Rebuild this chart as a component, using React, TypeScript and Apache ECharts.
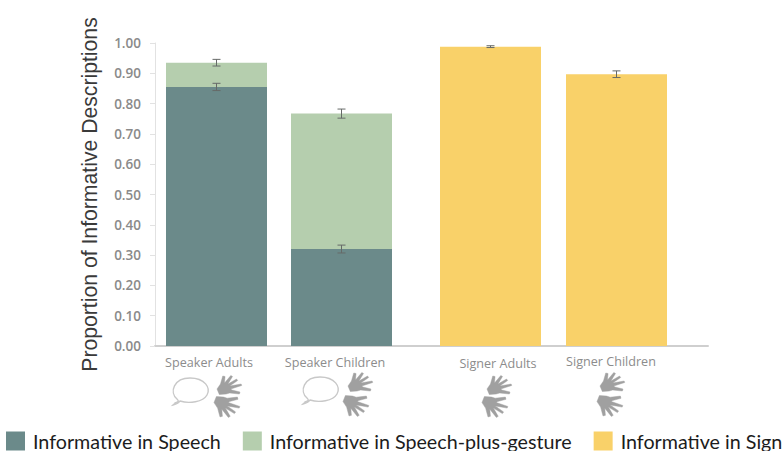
import React, { useEffect, useRef } from "react";
import * as echarts from "echarts";

const categories = ["Speaker Adults", "Speaker Children", "Signer Adults", "Signer Children"];
const speechValues = [0.855, 0.32, null, null];
const gestureTotals = [0.935, 0.767, null, null];
const signValues = [null, null, 0.988, 0.897];
const speechErrors = [0.012, 0.013, null, null];
const gestureTotalErrors = [0.011, 0.015, null, null];
const signErrors = [null, null, 0.003, 0.011];
const yTicks = [0, 0.1, 0.2, 0.3, 0.4, 0.5, 0.6, 0.7, 0.8, 0.9, 1];
const seriesNames = ["Informative in Speech", "Informative in Speech-plus-gesture", "Informative in Sign"];
const yTitle = "Proportion of Informative Descriptions";

// Uneven spacing of the four bars along the horizontal axis
const slots = [0.492, 1.492, 2.684, 3.692];
const slotMax = 4.424;

const HAND =
  "M0 14 L3 9 L5 1 L7 1.5 L6.5 8 L12 0.5 L13.5 1.5 L9.5 9 L17 4 L18 5.5 L11 11 L21 9 L21.5 10.5 L12 14 L13 15 L20 17 L19.5 19 L11 18 L8 19 L2 19.5 Z";
const BUBBLE =
  "M4 26 C8 25 8 24 6 22 C-2 15 3 1 19 1 C34 1 40 11 36 18 C32 25 18 27 9 24 C8 26 6 27 2 28 C3 27 4 27 4 26 Z";
echarts.graphic.registerShape("hand", echarts.graphic.extendPath(HAND, {}));
echarts.graphic.registerShape("bubble", echarts.graphic.extendPath(BUBBLE, {}));

const handStyle = { fill: "#a0a0a0", stroke: "#a0a0a0", lineWidth: 0.4, lineJoin: "round" };
const hands = (x: number, y: number, x2: number, y2: number) => [
  { type: "hand", x, y, scaleX: 1.15, scaleY: 1.0, style: handStyle },
  { type: "hand", x: x2, y: y2, scaleX: 1.2, scaleY: -1.1, style: handStyle },
];
const bubble = (x: number, y: number) => ({
  type: "bubble", x, y,
  style: { fill: "none", stroke: "#c8c8c8", lineWidth: 1.4 },
});
const label = (text: string, x: number, y: number) => ({
  type: "text", x, y,
  style: { text, fill: "#8c8c8c", font: '12.6px "Open Sans"', textAlign: "center", textVerticalAlign: "middle" },
});

const toPairs = (vals: (number | null)[]) => vals.map((v, i) => [slots[i], v]);

const errorRender = (_: any, api: any) => {
  const x = api.value(0);
  const y = api.value(1);
  const e = api.value(2);
  const lo = api.coord([x, y - e]);
  const hi = api.coord([x, y + e]);
  const st = { stroke: "#666a68", lineWidth: 1 };
  const line = (x1: number, y1: number, x2: number, y2: number) => ({ type: "line", shape: { x1, y1, x2, y2 }, style: st });
  return {
    type: "group",
    children: [
      line(lo[0], lo[1], hi[0], hi[1]),
      line(lo[0] - 4, lo[1], lo[0] + 4, lo[1]),
      line(hi[0] - 4, hi[1], hi[0] + 4, hi[1]),
    ],
  };
};

const errorData = () => {
  const out: number[][] = [];
  slots.forEach((s, i) => {
    if (speechValues[i] != null) {
      out.push([s, speechValues[i] as number, speechErrors[i] as number]);
      out.push([s, gestureTotals[i] as number, gestureTotalErrors[i] as number]);
    }
    if (signValues[i] != null) out.push([s, signValues[i] as number, signErrors[i] as number]);
  });
  return out;
};

export default function App() {
  const ref = useRef<HTMLDivElement>(null);
  useEffect(() => {
    const chart = echarts.init(ref.current!, undefined, { renderer: "svg" });
    const bar = (name: string, vals: (number | null)[], color: string) => ({
      name, type: "bar", barWidth: 101, barGap: "-100%", data: toPairs(vals),
      itemStyle: { color }, emphasis: { disabled: true },
    });
    chart.setOption({
      animation: false,
      backgroundColor: "#ffffff",
      grid: { left: 155, right: 75, top: 43, bottom: 105 },
      legend: {
        data: seriesNames, left: 6, top: 431, itemWidth: 19, itemHeight: 19, itemGap: 22, padding: 0,
        icon: "rect",
        textStyle: { fontFamily: "Lato", fontSize: 19.7, lineHeight: 19, color: "#1c1c1c", padding: [0, 0, 1, 3] },
      },
      xAxis: {
        type: "value", min: 0, max: slotMax, splitLine: { show: false },
        axisLabel: { show: false }, axisTick: { show: false },
        axisLine: { show: true, onZero: false, lineStyle: { color: "#cfcfcf", width: 2 } },
      },
      yAxis: {
        type: "value", min: 0, max: 1, interval: 0.1,
        name: yTitle, nameLocation: "middle", nameGap: 55,
        nameTextStyle: { fontFamily: "Liberation Sans", fontSize: 21.2, color: "#3a3a3a" },
        splitLine: { show: false },
        axisLine: { show: true, lineStyle: { color: "#e2e2e2", width: 1 } },
        axisTick: { show: true, length: 5, lineStyle: { color: "#e2e2e2" } },
        axisLabel: {
          fontFamily: "Open Sans", fontSize: 13.5, fontWeight: 600, color: "#8a8a8a", margin: 14,
          customValues: yTicks, formatter: (v: number) => v.toFixed(2),
        },
      },
      series: [
        bar(seriesNames[1], gestureTotals, "#b5ceae"),
        bar(seriesNames[0], speechValues, "#6b8a8a"),
        bar(seriesNames[2], signValues, "#f9d169"),
        { type: "custom", renderItem: errorRender, data: errorData(), z: 5, encode: { x: 0, y: 1 }, silent: true },
      ],
      graphic: [
        label(categories[0], 209, 362),
        label(categories[1], 335, 362),
        label(categories[2], 498, 363),
        label(categories[3], 611, 361),
        bubble(171, 377),
        bubble(301, 376),
        ...hands(217, 375, 214, 418),
        ...hands(348, 372, 343, 417),
        ...hands(487, 375, 482, 418),
        ...hands(600, 372, 597, 417),
      ],
    });
    return () => chart.dispose();
  }, []);
  return <div ref={ref} style={{ width: 783, height: 451, position: "absolute", left: 0, top: 0 }} />;
}
